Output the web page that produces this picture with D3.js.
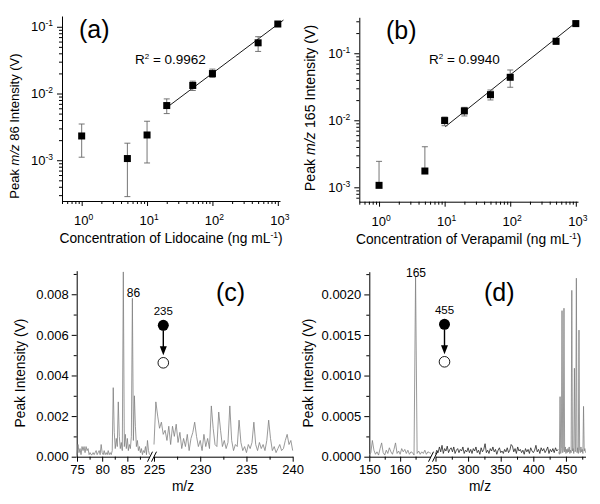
<!DOCTYPE html>
<html><head><meta charset="utf-8">
<script src="https://cdn.jsdelivr.net/npm/d3@7/dist/d3.min.js"></script>
<style>
body{margin:0;background:#fff;}
svg text{font-family:"Liberation Sans",Arial,Helvetica,sans-serif;fill:#000;}
</style></head><body>
<svg id="fig" width="600" height="504"></svg>
<script>
// ---------- DATA ----------
// (a) Lidocaine calibration
const concA   = [1, 5, 10, 20, 50, 100, 500, 1000];
const intA    = [2.31e-3, 1.06e-3, 2.39e-3, 6.6e-3, 0.0132, 0.0199, 0.0575, 0.110];
const errHiA  = [3.49e-3, 1.80e-3, 3.84e-3, 8.3e-3, 0.0153, 0.0232, 0.071, 0.115];
const errLoA  = [1.11e-3, 2.85e-4, 9.1e-4, 5.0e-3, 0.0111, 0.0174, 0.0427, 0.105];
const fitXA   = [19.3, 1220];
const fitYA   = [6.0e-3, 0.126];
const r2A     = "0.9962";
// (b) Verapamil calibration
const concB   = [1, 5, 10, 20, 50, 100, 500, 1000];
const intB    = [1.07e-3, 1.75e-3, 9.9e-3, 0.0138, 0.0241, 0.0438, 0.151, 0.277];
const errHiB  = [2.44e-3, 4.03e-3, 0.0112, 0.0156, 0.0283, 0.0563, 0.166, 0.302];
const errLoB  = [null, null, 8.3e-3, 0.0116, 0.0201, 0.0311, 0.136, 0.253];
const fitXB   = [10.2, 1045];
const fitYB   = [8.0e-3, 0.297];
const r2B     = "0.9940";
// log-axis tick exponents
const xTickExp  = [0, 1, 2, 3];
const yTickExpA = [-3, -2, -1];
const yTickExpB = [-3, -2, -1];

// (c) Lidocaine spectrum (intensity in units of 1e-4 V), m/z step 0.2
const mzC1Start = 75.0;
const specC1 = [1,6,2,4,1, 5,3,5,2,5, 3,4,1,2,1, 1,2,1,2,3, 1,2,3,1,6, 2,1,3,1,2, 1,3,1,2,1,
  3,34,12,4,9, 5,27,10,4,7, 3,91,5,11,4, 9,3,6,4,10, 78,8,30,15,5, 8,3,5,2,4, 1,3,2,5,1, 8,3,1];
const mzC2Start = 225.0;
const specC2 = [6,27,20,14,17, 11,13,8,15,6, 15,10,16,7,12, 4,9,5,11,3, 9,12,17,10,5,
  8,3,11,5,9, 4,25,14,6,5, 22,13,5,8,4, 7,25,8,3,6, 5,18,7,3,5,
  2,6,4,7,17, 6,3,7,4,6, 3,8,18,9,3, 5,2,4,6,3, 4,8,11,6,8, 3];
const xTicksC1 = [75, 80, 85];
const xTicksC2 = [225, 230, 235, 240];
const xMinorC1 = [77.5, 82.5, 87.5];
const xMinorC2 = [227.5, 232.5, 237.5];
const yTicksC  = [0, 0.002, 0.004, 0.006, 0.008];
const yMinorC  = [0.001, 0.003, 0.005, 0.007, 0.009];

// (d) Verapamil spectrum (intensity in units of 1e-5 V)
const mzD1Start = 150.0;  // step 0.5
const specD1 = [2,5,20,8,3, 6,2,10,17,5, 2,8,4,11,6, 3,9,17,4,7, 3,10,6,9,4, 8,3,6,5,2,
  222,4,7,3,6, 4,8,3,6,5, 4];
const mzD2Start = 250;    // step 2
const specD2 = [3,8,5,12,6,14,4,10,7,13,5,9,11,6,12,4,8,10,5,9,7,12,4,8,6,11,
  5,9,4,10,7,12,5,8,3,11,6,9,16,5,8,4,10,7,12,6,9,3,8,11,5,
  7,4,9,6,11,5,8,15,13,6,10,4,12,7,9,5,8,3,10,6,9,4,11,7,5,
  8,14,6,9,4,11,7,10,5,8,12,4,9,6,10,5,11,7,9];
const mzD3 = [439,440,441,442,443,444,445,446,447,448,449,450,451,452,453,454,455,456,457,458,459,460,
  461,462,463,464,465,466,467,468,469,470,471,472,473,474,475,476,477,478,479,480];
const specD3 = [6,3,74,4,10,180,5,8,183,6,12,4,9,5,10,6,12,4,8,5,205,7,
  10,4,109,6,9,220,5,11,4,156,8,5,12,6,9,4,62,7,10,5];
const xTicksD1 = [150, 160];
const xTicksD2 = [250, 300, 350, 400, 450];
const xMinorD1 = [155, 165];
const xMinorD2 = [275, 325, 375, 425, 475];
const yTicksD  = [0, 0.0005, 0.0010, 0.0015, 0.0020];
const yMinorD  = [0.00025, 0.00075, 0.00125, 0.00175, 0.00225];

// ---------- DRAWING ----------
const svg = d3.select("#fig");

function styleAxis(g){
  g.selectAll("path.domain").attr("stroke","#000").attr("stroke-width",1);
  g.selectAll(".tick line").attr("stroke","#000").attr("stroke-width",1);
}

function supText(parent, x, y, exp, anchor){
  const t = parent.append("text").attr("x",x).attr("y",y)
    .attr("text-anchor",anchor).style("font-size","13px");
  t.append("tspan").text("10");
  t.append("tspan").attr("dy",-5).style("font-size","8.5px").text(exp);
  return t;
}

function logPanel(cfg){
  const x = d3.scaleLog().domain(cfg.xDomain).range(cfg.xRange);
  const y = d3.scaleLog().domain(cfg.yDomain).range(cfg.yRange);
  const g = svg.append("g");
  const x0 = cfg.xRange[0], y0 = cfg.yRange[0];
  const xMaj = cfg.xExp.map(e => Math.pow(10,e));
  const yMaj = cfg.yExp.map(e => Math.pow(10,e));
  const xMin = x.ticks().filter(v => !xMaj.some(m => Math.abs(m-v)/m < 1e-6));
  const yMin = y.ticks().filter(v => !yMaj.some(m => Math.abs(m-v)/m < 1e-6));

  const gx = g.append("g").attr("transform",`translate(0,${y0})`)
    .call(d3.axisBottom(x).tickValues(xMaj).tickSize(5).tickSizeOuter(0).tickFormat(""));
  const gx2 = g.append("g").attr("transform",`translate(0,${y0})`)
    .call(d3.axisBottom(x).tickValues(xMin).tickSize(3).tickSizeOuter(0).tickFormat(""));
  gx2.select(".domain").remove();
  const gy = g.append("g").attr("transform",`translate(${x0},0)`)
    .call(d3.axisLeft(y).tickValues(yMaj).tickSize(5).tickSizeOuter(0).tickFormat(""));
  const gy2 = g.append("g").attr("transform",`translate(${x0},0)`)
    .call(d3.axisLeft(y).tickValues(yMin).tickSize(3).tickSizeOuter(0).tickFormat(""));
  gy2.select(".domain").remove();
  [gx,gx2,gy,gy2].forEach(styleAxis);

  cfg.xExp.forEach(e => supText(g, x(Math.pow(10,e))+2, y0+24, e, "middle"));
  cfg.yExp.forEach(e => supText(g, x0-9, y(Math.pow(10,e))+4.5, e, "end"));

  // fit line
  g.append("line")
    .attr("x1", x(cfg.fitX[0])).attr("y1", y(cfg.fitY[0]))
    .attr("x2", x(cfg.fitX[1])).attr("y2", y(cfg.fitY[1]))
    .attr("stroke","#000").attr("stroke-width",0.9);

  // error bars
  const eb = g.append("g").attr("stroke","#666").attr("stroke-width",0.9);
  cfg.conc.forEach((c,i) => {
    const cx = x(c);
    const hi = y(cfg.hi[i]);
    const lo = cfg.lo[i] == null ? y(cfg.val[i]) : y(cfg.lo[i]);
    eb.append("line").attr("x1",cx).attr("x2",cx).attr("y1",hi).attr("y2",lo);
    eb.append("line").attr("x1",cx-3).attr("x2",cx+3).attr("y1",hi).attr("y2",hi);
    if (cfg.lo[i] != null)
      eb.append("line").attr("x1",cx-3).attr("x2",cx+3).attr("y1",lo).attr("y2",lo);
  });
  // markers
  g.selectAll("rect.pt").data(cfg.conc).join("rect")
    .attr("x", (d)=> x(d)-3.5).attr("y",(d,i)=> y(cfg.val[i])-3.5)
    .attr("width",7).attr("height",7).attr("fill","#000");

  // labels
  g.append("text").attr("x",cfg.labX).attr("y",cfg.labY).style("font-size","25px").text(cfg.lab);
  const r = g.append("text").attr("x",cfg.r2X).attr("y",cfg.r2Y).style("font-size","13.5px");
  r.append("tspan").text("R");
  r.append("tspan").attr("dy",-5).style("font-size","8px").text("2");
  r.append("tspan").attr("dy",5).text(" = " + cfg.r2);

  // axis titles
  const xt = g.append("text").attr("x",(cfg.xRange[0]+cfg.xRange[1])/2+cfg.xtDx).attr("y",y0+42)
    .attr("text-anchor","middle").style("font-size","13.8px");
  xt.append("tspan").text(cfg.xTitle + " (ng mL");
  xt.append("tspan").attr("dy",-5).style("font-size","8.5px").text("-1");
  xt.append("tspan").attr("dy",5).text(")");

  const yt = g.append("text").attr("transform",`translate(${cfg.ytX},${cfg.ytY}) rotate(-90)`)
    .attr("text-anchor","middle").style("font-size",cfg.ytSize);
  yt.append("tspan").text("Peak ");
  yt.append("tspan").style("font-style","italic").text("m/z");
  yt.append("tspan").text(" " + cfg.ion + " Intensity (V)");
}

logPanel({xDomain:[0.5,1080], xRange:[62,280], yDomain:[2.45e-4,0.145], yRange:[201,16],
  xExp:xTickExp, yExp:yTickExpA, conc:concA, val:intA, hi:errHiA, lo:errLoA,
  fitX:fitXA, fitY:fitYA, r2:r2A, lab:"(a)", labX:79, labY:38, r2X:135, r2Y:63.5,
  xTitle:"Concentration of Lidocaine", xtDx:0, ytX:19, ytY:126, ytSize:"13px", ion:"86"});

logPanel({xDomain:[0.5,1080], xRange:[359.3,578], yDomain:[6.1e-4,0.344], yRange:[201.7,17.3],
  xExp:xTickExp, yExp:yTickExpB, conc:concB, val:intB, hi:errHiB, lo:errLoB,
  fitX:fitXB, fitY:fitYB, r2:r2B, lab:"(b)", labX:386, labY:38.5, r2X:429, r2Y:63.5,
  xTitle:"Concentration of Verapamil", xtDx:0, ytX:315, ytY:108, ytSize:"14.2px", ion:"165"});

function specPanel(cfg){
  const g = svg.append("g");
  const y = d3.scaleLinear().domain(cfg.yDomain).range(cfg.yRange);
  const y0 = cfg.yRange[0];
  const gy = g.append("g").attr("transform",`translate(${cfg.axisX},0)`)
    .call(d3.axisLeft(y).tickValues(cfg.yTicks).tickSize(5).tickSizeOuter(0).tickFormat(d3.format(cfg.yFmt)));
  const gy2 = g.append("g").attr("transform",`translate(${cfg.axisX},0)`)
    .call(d3.axisLeft(y).tickValues(cfg.yMinor).tickSize(3).tickSizeOuter(0).tickFormat(""));
  gy2.select(".domain").remove();
  [gy,gy2].forEach(styleAxis);
  gy.selectAll(".tick text").style("font-size","13px").attr("x",-8)
    .style("font-family","Liberation Sans, Arial, sans-serif");

  cfg.segs.forEach(s => {
    const x = d3.scaleLinear().domain(s.domain).range(s.range);
    const gx = g.append("g").attr("transform",`translate(0,${y0})`)
      .call(d3.axisBottom(x).tickValues(s.ticks).tickSize(5).tickSizeOuter(0).tickFormat(d3.format("d")));
    const gx2 = g.append("g").attr("transform",`translate(0,${y0})`)
      .call(d3.axisBottom(x).tickValues(s.minor).tickSize(3).tickSizeOuter(0).tickFormat(""));
    gx2.select(".domain").remove();
    [gx,gx2].forEach(styleAxis);
    gx.selectAll(".tick text").style("font-size","13px").attr("y",8)
      .style("font-family","Liberation Sans, Arial, sans-serif");
    s.series.forEach(ser => {
      const pts = ser.vals.map((v,i) => [ser.mz[i], v*ser.unit]);
      g.append("path").datum(pts)
        .attr("d", d3.line().x(d=>x(d[0])).y(d=>y(d[1])))
        .attr("fill","none").attr("stroke",ser.color).attr("stroke-width",0.8);
    });
  });
  // break marks
  const bx = cfg.breakX;
  g.append("rect").attr("x",bx-2).attr("y",y0-1.5).attr("width",4).attr("height",3).attr("fill","#fff");
  [-2, 2].forEach(o => g.append("line")
    .attr("x1",bx+o-2.5).attr("y1",y0+5).attr("x2",bx+o+2.5).attr("y2",y0-5)
    .attr("stroke","#000").attr("stroke-width",1));

  // titles
  g.append("text").attr("x",cfg.xtX).attr("y",y0+34).attr("text-anchor","middle")
    .style("font-size","13.8px").text("m/z");
  g.append("text").attr("transform",`translate(${cfg.ytX},${cfg.ytY}) rotate(-90)`)
    .attr("text-anchor","middle").style("font-size","13.8px").text("Peak Intensity (V)");
  g.append("text").attr("x",cfg.labX).attr("y",cfg.labY).style("font-size","25px").text(cfg.lab);
  // peak label
  g.append("text").attr("x",cfg.peakLabX).attr("y",cfg.peakLabY).attr("text-anchor","middle")
    .style("font-size","12px").text(cfg.peakLab);
  // precursor scheme
  const sx = cfg.schemeX, sy = cfg.schemeY;
  g.append("text").attr("x",sx).attr("y",sy-10).attr("text-anchor","middle")
    .style("font-size","11.5px").text(cfg.precursor);
  g.append("circle").attr("cx",sx).attr("cy",sy).attr("r",5.5).attr("fill","#000");
  g.append("line").attr("x1",sx).attr("x2",sx).attr("y1",sy+5).attr("y2",sy+23)
    .attr("stroke","#000").attr("stroke-width",1.4);
  g.append("path").attr("d",`M${sx-3.5},${sy+21} L${sx+3.5},${sy+21} L${sx},${sy+30} Z`).attr("fill","#000");
  g.append("circle").attr("cx",sx).attr("cy",sy+37.5).attr("r",5.3)
    .attr("fill","#fff").attr("stroke","#000").attr("stroke-width",0.9);
}

const rangeStep = (start, step, n) => d3.range(n).map(i => +(start + i*step).toFixed(2));

specPanel({
  axisX:76.7, yDomain:[0,0.00916], yRange:[456.7,270.7], yTicks:yTicksC, yMinor:yMinorC, yFmt:".3f",
  segs:[
    {domain:[75,89.5], range:[77,150], ticks:xTicksC1, minor:xMinorC1,
     series:[{mz:rangeStep(mzC1Start,0.2,specC1.length), vals:specC1, unit:1e-4, color:"#808080"}]},
    {domain:[225,240], range:[154,292.7], ticks:xTicksC2, minor:xMinorC2,
     series:[{mz:rangeStep(mzC2Start,0.2,specC2.length), vals:specC2, unit:1e-4, color:"#808080"}]}
  ],
  breakX:152, xtX:183, ytX:25, ytY:373, lab:"(c)", labX:216, labY:301,
  peakLab:"86", peakLabX:133.5, peakLabY:296.5, precursor:"235", schemeX:163.3, schemeY:325.3
});

specPanel({
  axisX:369.3, yDomain:[0,0.00228], yRange:[456.7,271.7], yTicks:yTicksD, yMinor:yMinorD, yFmt:".4f",
  segs:[
    {domain:[150,170], range:[369.3,431], ticks:xTicksD1, minor:xMinorD1,
     series:[{mz:rangeStep(mzD1Start,0.5,specD1.length), vals:specD1, unit:1e-5, color:"#808080"}]},
    {domain:[250,480], range:[435.5,585.5], ticks:xTicksD2, minor:xMinorD2,
     series:[{mz:rangeStep(mzD2Start,2,specD2.length), vals:specD2, unit:1e-5, color:"#222"},
             {mz:mzD3, vals:specD3, unit:1e-5, color:"#808080"}]}
  ],
  breakX:433, xtX:480, ytX:313, ytY:373, lab:"(d)", labX:484, labY:301,
  peakLab:"165", peakLabX:416, peakLabY:276.5, precursor:"455", schemeX:444.5, schemeY:324.3
});
</script>
</body></html>
